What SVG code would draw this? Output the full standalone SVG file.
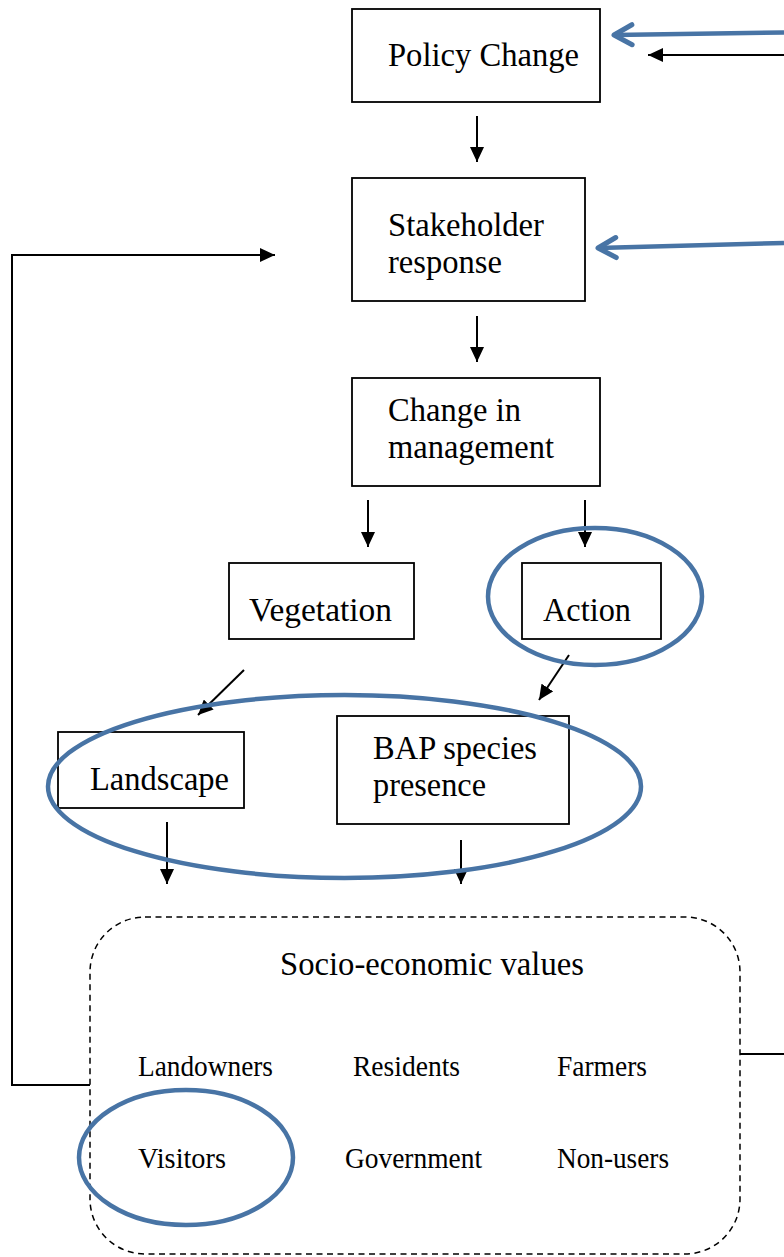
<svg xmlns="http://www.w3.org/2000/svg" width="784" height="1257" viewBox="0 0 784 1257">
  <style>
    .box { fill: #ffffff; stroke: #000000; stroke-width: 1.8; }
    .lbl { font-family: "Liberation Serif", "Times New Roman", serif; font-size: 34px; fill: #000000; }
    .sm { font-family: "Liberation Serif", "Times New Roman", serif; font-size: 28.5px; fill: #000000; }
    .ttl { font-family: "Liberation Serif", "Times New Roman", serif; font-size: 34px; fill: #000000; }
    .arr { fill: none; stroke: #000000; stroke-width: 2; marker-end: url(#head); }
    .line { fill: none; stroke: #000000; stroke-width: 2; }
    .blue { fill: none; stroke: #4874A5; stroke-width: 4.5; }
    .barr { fill: none; stroke: #4874A5; stroke-width: 4.5; marker-end: url(#chev); }
  </style>
  <defs>
    <marker id="head" markerUnits="userSpaceOnUse" markerWidth="16" markerHeight="14" refX="15" refY="7" orient="auto" viewBox="0 0 16 14">
      <path d="M0,0 L15,7 L0,14 z" fill="#000000"/>
    </marker>
    <marker id="chev" markerUnits="userSpaceOnUse" markerWidth="28" markerHeight="30" refX="0" refY="0" orient="auto" viewBox="-24 -15 28 30">
      <path d="M-18,-10 L0,0 L-18,10" fill="none" stroke="#4874A5" stroke-width="5" stroke-linecap="round" stroke-linejoin="round"/>
    </marker>
  </defs>

  <rect width="784" height="1257" fill="#ffffff"/>

  <!-- connectors -->
  <g id="connectors">
    <path class="arr" d="M477,116 V162"/>
    <path class="arr" d="M477,316 V362"/>
    <path class="arr" d="M368,500 V547"/>
    <path class="arr" d="M585,500 V547"/>
    <path class="arr" d="M244,670 L198,715"/>
    <path class="arr" d="M569,655 L539,700"/>
    <path class="arr" d="M167,822 V884"/>
    <path class="arr" d="M461,840 V884"/>
    <!-- feedback loop from socio-economic values back to stakeholder response -->
    <path class="arr" d="M90,1085 H12 V255 H275"/>
    <!-- outgoing line to the right and returning arrow into policy change -->
    <path class="line" d="M740,1054 H784"/>
    <path class="arr" d="M784,55 H648"/>
    <path class="barr" d="M784,32.5 L614,35"/>
    <path class="barr" d="M784,243 L598,248"/>
  </g>

  <g id="policy-change">
    <rect class="box" x="352" y="9" width="248" height="93"/>
    <text class="lbl" x="388" y="66" textLength="191" lengthAdjust="spacingAndGlyphs">Policy Change</text>
  </g>

  <g id="stakeholder-response">
    <rect class="box" x="352" y="178" width="233" height="123"/>
    <text class="lbl" x="388" y="236" textLength="156" lengthAdjust="spacingAndGlyphs">Stakeholder</text>
    <text class="lbl" x="388" y="273" textLength="114" lengthAdjust="spacingAndGlyphs">response</text>
  </g>

  <g id="change-in-management">
    <rect class="box" x="352" y="378" width="248" height="108"/>
    <text class="lbl" x="388" y="421" textLength="133" lengthAdjust="spacingAndGlyphs">Change in</text>
    <text class="lbl" x="388" y="458" textLength="166" lengthAdjust="spacingAndGlyphs">management</text>
  </g>

  <g id="vegetation">
    <rect class="box" x="229" y="563" width="185" height="76"/>
    <text class="lbl" x="249" y="621" textLength="143" lengthAdjust="spacingAndGlyphs">Vegetation</text>
  </g>

  <g id="action">
    <rect class="box" x="522" y="563" width="139" height="76"/>
    <text class="lbl" x="543" y="621" textLength="88" lengthAdjust="spacingAndGlyphs">Action</text>
    <ellipse class="blue" cx="595" cy="596.5" rx="107" ry="68.5"/>
  </g>

  <g id="landscape">
    <rect class="box" x="58" y="732" width="186" height="76"/>
    <text class="lbl" x="90" y="790" textLength="139" lengthAdjust="spacingAndGlyphs">Landscape</text>
  </g>

  <g id="bap-species-presence">
    <rect class="box" x="337" y="716" width="232" height="108"/>
    <text class="lbl" x="373" y="759" textLength="164" lengthAdjust="spacingAndGlyphs">BAP species</text>
    <text class="lbl" x="373" y="796" textLength="113" lengthAdjust="spacingAndGlyphs">presence</text>
  </g>

  <!-- highlight around landscape and BAP species -->
  <g id="outcome-highlight">
    <ellipse class="blue" cx="344.5" cy="786.5" rx="296.5" ry="91.5"/>
  </g>

  <g id="socio-economic-values">
    <rect x="90" y="917" width="650" height="337" rx="55" ry="55" fill="none" stroke="#000000" stroke-width="1.5" stroke-dasharray="6 4.5"/>
    <text class="ttl" x="280" y="975" textLength="304" lengthAdjust="spacingAndGlyphs">Socio-economic values</text>
    <text class="sm" x="138" y="1076" textLength="135" lengthAdjust="spacingAndGlyphs">Landowners</text>
    <text class="sm" x="353" y="1076" textLength="107" lengthAdjust="spacingAndGlyphs">Residents</text>
    <text class="sm" x="557" y="1076" textLength="90" lengthAdjust="spacingAndGlyphs">Farmers</text>
    <text class="sm" x="138" y="1168" textLength="88" lengthAdjust="spacingAndGlyphs">Visitors</text>
    <text class="sm" x="345" y="1168" textLength="137" lengthAdjust="spacingAndGlyphs">Government</text>
    <text class="sm" x="557" y="1168" textLength="112" lengthAdjust="spacingAndGlyphs">Non-users</text>
    <ellipse class="blue" cx="186" cy="1157.5" rx="107" ry="67.5"/>
  </g>
</svg>
